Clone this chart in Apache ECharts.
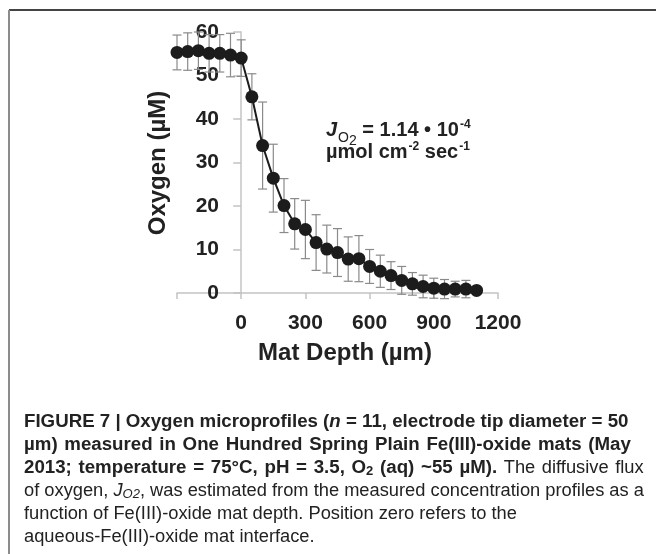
<!DOCTYPE html>
<html>
<head>
<meta charset="utf-8">
<script src="https://cdn.jsdelivr.net/npm/echarts@6/dist/echarts.min.js"></script>
<style>
html, body { margin: 0; padding: 0; background: #fff; }
#main { width: 656px; height: 554px; }
</style>
</head>
<body>
<div id="main"></div>
<script>
// mat depth (µm) and mean O2 (µM) with standard deviation
var depth = [-300, -250, -200, -150, -100, -50, 0, 50, 100, 150, 200, 250, 300, 350, 400, 450, 500, 550, 600, 650, 700, 750, 800, 850, 900, 950, 1000, 1050, 1100];
var oxygen = [55.3, 55.5, 55.7, 55.1, 55.1, 54.7, 54.0, 45.1, 33.9, 26.4, 20.1, 15.9, 14.6, 11.6, 10.1, 9.3, 7.8, 7.9, 6.1, 5.0, 4.0, 2.9, 2.1, 1.5, 1.1, 0.9, 0.9, 0.9, 0.6];
var stdev = [4.0, 4.3, 4.3, 4.3, 4.3, 5.0, 4.2, 5.3, 10.0, 7.8, 6.2, 5.8, 6.7, 6.4, 5.5, 5.5, 5.1, 5.3, 3.9, 3.7, 3.2, 3.2, 2.6, 2.6, 2.3, 2.2, 1.8, 2.0, 0.5];
var xTicks = [-300, 0, 300, 600, 900, 1200];
var yTicks = [0, 10, 20, 30, 40, 50, 60];

var FONT = '"Liberation Sans", Arial, Helvetica, sans-serif';

var points = depth.map(function (d, i) { return [d, oxygen[i]]; });
var bars = depth.map(function (d, i) { return [d, oxygen[i] - stdev[i], oxygen[i] + stdev[i]]; });

// split words into rich tokens with a fixed-width gap, to mimic the justified caption
function words(style, gap, str) {
    return str.split(' ').map(function (w) { return '{' + style + '|' + w + '}'; }).join('{' + gap + '| }');
}

var captionText = [
    '{b|FIGURE 7 | Oxygen microprofiles (}{bi|n}{b| = 11, electrode tip diameter = 50}',
    words('b', 'g2', 'µm) measured in One Hundred Spring Plain Fe(III)-oxide mats (May'),
    words('b', 'g3b', '2013; temperature = 75°C, pH = 3.5, O') + '{bs|2}{g3b| }' +
        words('b', 'g3b', '(aq) ~55 µM).') + '{g3r| }' + words('r', 'g3r', 'The diffusive flux'),
    '{r|of oxygen, }{i|J}{rs|O2}{r|, was estimated from the measured concentration profiles as a}',
    '{r|function of Fe(III)-oxide mat depth. Position zero refers to the}',
    '{r|aqueous-Fe(III)-oxide mat interface.}'
].join('\n');

var chart = echarts.init(document.getElementById('main'));

chart.setOption({
    animation: false,
    grid: { left: 177, right: 158, top: 32, bottom: 261 },
    xAxis: {
        type: 'value',
        min: xTicks[0],
        max: xTicks[xTicks.length - 1],
        interval: 300,
        axisLine: { lineStyle: { color: '#c4c4c4', width: 1.5 } },
        axisTick: { length: 6, lineStyle: { color: '#c4c4c4', width: 1.5 } },
        axisLabel: {
            margin: 20,
            color: '#222',
            fontFamily: FONT,
            fontWeight: 'bold',
            fontSize: 21,
            formatter: function (v) { return v < 0 ? '' : String(v); }
        },
        splitLine: { show: false }
    },
    yAxis: {
        type: 'value',
        min: yTicks[0],
        max: yTicks[yTicks.length - 1],
        interval: 10,
        axisLine: { show: true, onZero: true, lineStyle: { color: '#c4c4c4', width: 1.5 } },
        axisTick: { show: true, length: 8, lineStyle: { color: '#c4c4c4', width: 1.5 } },
        axisLabel: {
            // labels stay at the grid edge, pull them over to the x = 0 axis line
            margin: -42,
            color: '#222',
            fontFamily: FONT,
            fontWeight: 'bold',
            fontSize: 21
        },
        splitLine: { show: false }
    },
    series: [
        {
            // error bars
            type: 'custom',
            z: 1,
            encode: { x: 0, y: [1, 2] },
            data: bars,
            renderItem: function (params, api) {
                var lo = api.coord([api.value(0), api.value(1)]);
                var hi = api.coord([api.value(0), api.value(2)]);
                var w = 4.5;
                var st = { stroke: '#8a8a8a', lineWidth: 1.2 };
                return {
                    type: 'group',
                    children: [
                        { type: 'line', shape: { x1: hi[0], y1: hi[1], x2: lo[0], y2: lo[1] }, style: st },
                        { type: 'line', shape: { x1: hi[0] - w, y1: hi[1], x2: hi[0] + w, y2: hi[1] }, style: st },
                        { type: 'line', shape: { x1: lo[0] - w, y1: lo[1], x2: lo[0] + w, y2: lo[1] }, style: st }
                    ]
                };
            }
        },
        {
            type: 'line',
            z: 3,
            data: points,
            symbol: 'circle',
            symbolSize: 13,
            itemStyle: { color: '#1c1c1c' },
            lineStyle: { color: '#1c1c1c', width: 2 }
        }
    ],
    graphic: {
        elements: [
            // frame
            { type: 'line', shape: { x1: 9, y1: 10, x2: 656, y2: 10 }, style: { stroke: '#444', lineWidth: 2 } },
            { type: 'line', shape: { x1: 9, y1: 10, x2: 9, y2: 554 }, style: { stroke: '#8c8c8c', lineWidth: 2 } },
            // axis names
            {
                type: 'text', x: 158, y: 163, rotation: Math.PI / 2,
                style: { text: 'Oxygen (µM)', font: 'bold 24px ' + FONT, fill: '#222', align: 'center', verticalAlign: 'middle' }
            },
            {
                type: 'text', x: 345, y: 353,
                style: { text: 'Mat Depth (µm)', font: 'bold 24px ' + FONT, fill: '#222', align: 'center', verticalAlign: 'middle' }
            },
            // flux annotation, one element per line
            {
                type: 'text', x: 326, y: 130,
                style: {
                    text: '{j|J}{s|O}{s2|2}{b| = 1.14 • 10}{p|-4}',
                    fill: '#222',
                    verticalAlign: 'middle',
                    rich: {
                        j: { fontFamily: FONT, fontWeight: 'bold', fontStyle: 'italic', fontSize: 20 },
                        s: { fontFamily: FONT, fontSize: 14, padding: [16, 0, 0, 1] },
                        s2: { fontFamily: FONT, fontSize: 14, padding: [22, 0, 0, 0] },
                        b: { fontFamily: FONT, fontWeight: 'bold', fontSize: 20 },
                        p: { fontFamily: FONT, fontWeight: 'bold', fontSize: 12, padding: [0, 0, 10, 1] }
                    }
                }
            },
            {
                type: 'text', x: 326, y: 152,
                style: {
                    text: '{b|µmol cm}{p|-2}{b| sec}{p|-1}',
                    fill: '#222',
                    verticalAlign: 'middle',
                    rich: {
                        b: { fontFamily: FONT, fontWeight: 'bold', fontSize: 20 },
                        p: { fontFamily: FONT, fontWeight: 'bold', fontSize: 12, padding: [0, 0, 10, 1] }
                    }
                }
            },
            // caption
            {
                type: 'text', x: 24, y: 410,
                style: {
                    text: captionText,
                    fill: '#222',
                    rich: {
                        b: { fontFamily: FONT, fontWeight: 'bold', fontSize: 18.7, lineHeight: 23, color: '#1a1a1a' },
                        bi: { fontFamily: FONT, fontWeight: 'bold', fontStyle: 'italic', fontSize: 18.7, lineHeight: 23, color: '#1a1a1a' },
                        bs: { fontFamily: FONT, fontWeight: 'bold', fontSize: 13, padding: [8, 0, 0, 0], color: '#1a1a1a' },
                        r: { fontFamily: FONT, fontSize: 18.3, lineHeight: 23, color: '#3a3a3a' },
                        i: { fontFamily: FONT, fontStyle: 'italic', fontSize: 18.3, lineHeight: 23, color: '#3a3a3a' },
                        rs: { fontFamily: FONT, fontStyle: 'italic', fontSize: 13, padding: [8, 0, 0, 0], color: '#3a3a3a' },
                        g2: { fontFamily: FONT, fontWeight: 'bold', fontSize: 18.7, lineHeight: 23, width: 6.7 },
                        g3b: { fontFamily: FONT, fontWeight: 'bold', fontSize: 18.7, lineHeight: 23, width: 6.7 },
                        g3r: { fontFamily: FONT, fontSize: 18.3, lineHeight: 23, width: 6.6 }
                    }
                }
            }
        ]
    }
});
</script>
</body>
</html>
